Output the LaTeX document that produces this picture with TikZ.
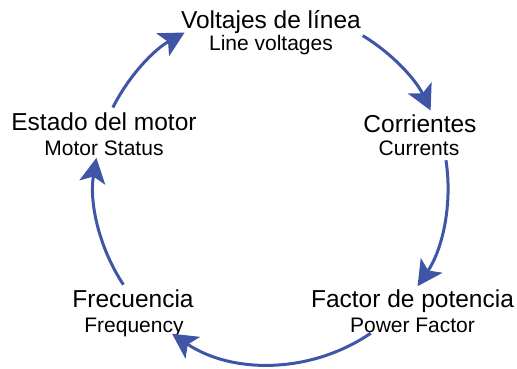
\documentclass[tikz,border=0pt]{standalone}
\usepackage{fontspec}
\setmainfont{Liberation Sans}
\usetikzlibrary{arrows.meta,calc}
\definecolor{cycleblue}{HTML}{3F56A6}
\tikzset{
  mainlbl/.style={anchor=base, inner sep=0pt, font=\fontsize{24.5}{28}\selectfont},
  sublbl/.style={anchor=base, inner sep=0pt, font=\fontsize{21}{24}\selectfont},
  flow/.style={draw=cycleblue, line width=3pt,
    -{Stealth[length=25pt, width=26pt, inset=6pt]}},
}
\begin{document}
\begin{tikzpicture}[x=1pt,y=1pt]
\useasboundingbox (0,0) rectangle (517,368);
% labels (y measured from bottom: 368 - pixel row)
\node[mainlbl] (volt)  at (271,340) {Voltajes de línea};
\node[sublbl]  (voltE) at (271,318) {Line voltages};
\node[mainlbl] (corr)  at (420,236) {Corrientes};
\node[sublbl]  (corrE) at (419,213) {Currents};
\node[mainlbl] (fp)    at (412.5,61) {Factor de potencia};
\node[sublbl]  (fpE)   at (412.5,36) {Power Factor};
\node[mainlbl] (freq)  at (133,61) {Frecuencia};
\node[sublbl]  (freqE) at (134,36) {Frequency};
\node[mainlbl] (est)   at (104,238) {Estado del motor};
\node[sublbl]  (estE)  at (104,213) {Motor Status};
% cycle arcs
\coordinate (C) at (271,181);
\coordinate (a1) at ($(C)+(58.8:177)$);
\coordinate (a2) at ($(C)+(8.7:177)$);
\coordinate (a3) at ($(C)+(-55.7:177)$);
\coordinate (a4) at ($(C)+(-146.5:177)$);
\coordinate (a5) at ($(C)+(153.3:177)$);
\draw[flow] (a1) arc[start angle=58.8, end angle=25.6, radius=177];
\draw[flow] (a2) arc[start angle=8.7, end angle=-34.1, radius=177];
\draw[flow] (a3) arc[start angle=-55.7, end angle=-124, radius=177];
\draw[flow] (a4) arc[start angle=-146.5, end angle=-189.5, radius=177];
\draw[flow] (a5) arc[start angle=153.3, end angle=119.2, radius=177];
\end{tikzpicture}
\end{document}
